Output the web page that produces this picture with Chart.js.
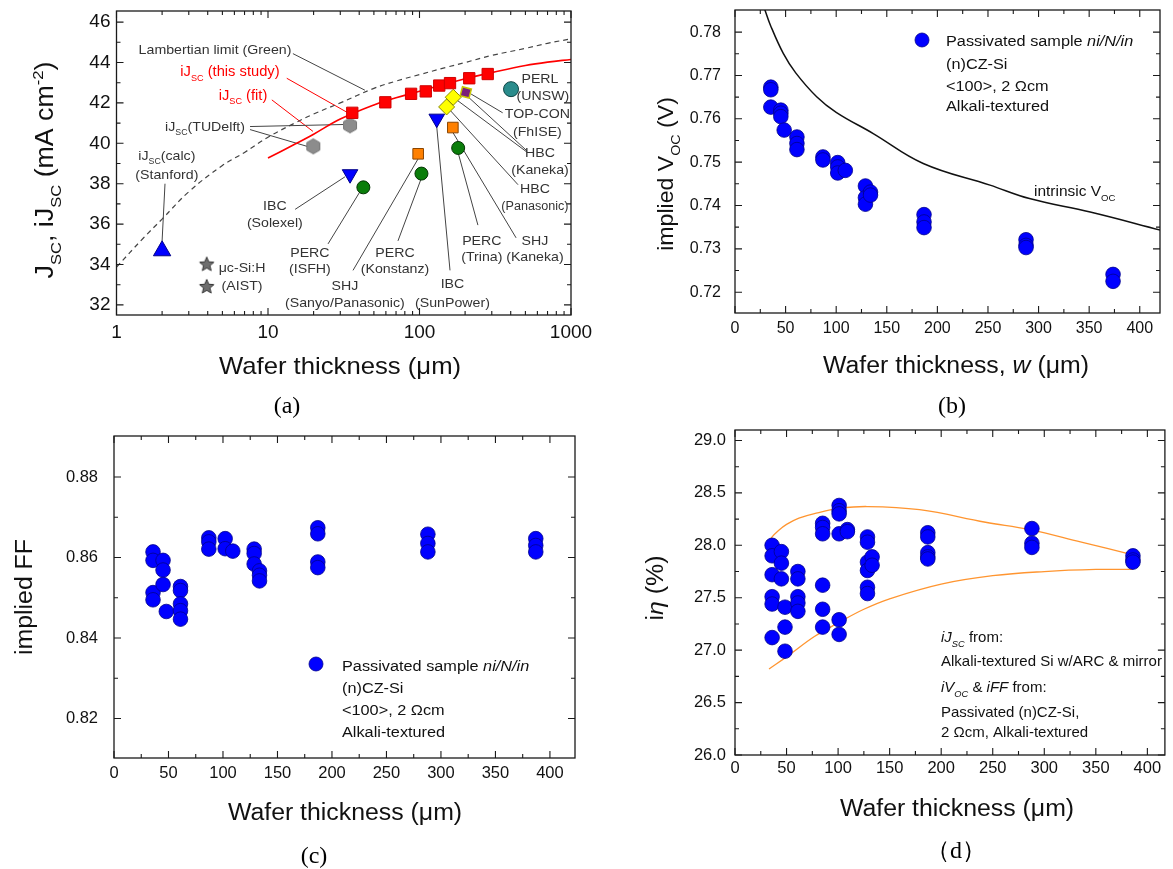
<!DOCTYPE html>
<html><head><meta charset="utf-8">
<script src="https://cdn.jsdelivr.net/npm/chart.js@4.4.1/dist/chart.umd.min.js"></script>
<style>
html,body{margin:0;padding:0;background:#fff;width:1173px;height:869px;overflow:hidden;position:relative;}
canvas{position:absolute;}
.cap{position:absolute;font-family:"Liberation Serif","Times New Roman",serif;font-size:24px;color:#000;transform:translate(-50%,-50%);white-space:nowrap;}
</style></head><body>
<canvas id="ca" width="610" height="420" style="left:0;top:0"></canvas>
<canvas id="cb" width="543" height="420" style="left:630px;top:0"></canvas>
<canvas id="cc" width="610" height="449" style="left:0;top:420px"></canvas>
<canvas id="cd" width="543" height="449" style="left:630px;top:420px"></canvas>
<div class="cap" style="left:287px;top:405px">(a)</div>
<div class="cap" style="left:952px;top:405px">(b)</div>
<div class="cap" style="left:314px;top:855px">(c)</div>
<div class="cap" style="left:956px;top:850px">（d）</div>
<script>
// ---------- Panel (a) data ----------
const aStudyX = [36, 59.5, 88, 110, 135, 159, 213, 282];
const aStudyY = [41.51, 42.03, 42.45, 42.57, 42.86, 42.98, 43.22, 43.43];
const aFitX = [10, 15, 20, 30, 50, 70, 100, 150, 200, 300, 500, 700, 1000];
const aFitY = [39.27, 39.95, 40.45, 41.2, 41.9, 42.25, 42.58, 42.95, 43.2, 43.5, 43.85, 44.02, 44.15];
const aLambX = [1, 1.5, 2, 3, 5, 7, 10, 15, 20, 30, 50, 70, 100, 150, 200, 300, 500, 700, 1000];
const aLambY = [33.87, 35.3, 36.25, 37.6, 38.9, 39.55, 40.3, 41.0, 41.45, 42.0, 42.72, 43.08, 43.4, 43.76, 44.0, 44.35, 44.7, 44.95, 45.17];
const aTUDelftX = [34.8, 19.9];   const aTUDelftY = [40.89, 39.85];
const aStanfordX = [2.0];         const aStanfordY = [34.68];
const aAistX = [3.94, 3.94];      const aAistY = [34.0, 32.89];
const aIbcX = [34.8, 130];        const aIbcY = [38.47, 41.22];
const aPercX = [42.6, 103, 180];  const aPercY = [37.82, 38.5, 39.77];
const aShjX = [98, 166];          const aShjY = [39.48, 40.78];
const aHbcX = [151, 167];         const aHbcY = [41.8, 42.28];
const aTopconX = [202];           const aTopconY = [42.52];
const aPerlX = [402];             const aPerlY = [42.68];
const aXTicks = [1, 10, 100, 1000];
const aXMinor = [2,3,4,5,6,7,8,9,20,30,40,50,60,70,80,90,200,300,400,500,600,700,800,900];
const aYTicks = [32, 34, 36, 38, 40, 42, 44, 46];
const aYMinor = [33, 35, 37, 39, 41, 43, 45];

// ---------- Panel (b) data ----------
const bX = [35.4,35.4,35.4, 45.3,45.3,45.3, 48.6, 61.2,61.2,61.2, 86.9,86.9, 101.5,101.5,101.5, 109,
            128.9,128.9,128.9, 133.9,133.9, 186.8,186.8,186.8, 287.6,287.6,287.6, 373.6,373.6];
const bY = [0.7673,0.7667,0.7627, 0.7620,0.7613,0.7605, 0.7574, 0.7558,0.7543,0.7529, 0.7512,0.7505,
            0.7499,0.7489,0.7475, 0.7481, 0.7445,0.7418,0.7403, 0.7431,0.7424, 0.7379,0.7362,0.7349,
            0.7321,0.7308,0.7303, 0.7241,0.7225];
const bIntrX = [29, 35, 47.7, 60, 80.7, 100, 136.6, 186, 252, 291, 351, 421];
const bIntrY = [0.7855, 0.7816, 0.7751, 0.7706, 0.7651, 0.7615, 0.7566, 0.7497, 0.7447, 0.7416, 0.7385, 0.7343];
const bXTicks = [0, 50, 100, 150, 200, 250, 300, 350, 400];
const bXMinor = [25, 75, 125, 175, 225, 275, 325, 375];
const bYTicks = [0.72, 0.73, 0.74, 0.75, 0.76, 0.77, 0.78];
const bYMinor = [0.725, 0.735, 0.745, 0.755, 0.765, 0.775];

// ---------- Panel (c) data ----------
const cX = [35.8,35.8,35.8,35.8, 45,45,45, 48, 61,61,61,61,61, 87,87,87, 102,102, 109,
            128.6,128.6,128.6, 133.5,133.5,133.5, 187,187,187,187, 288,288,288, 387,387,387];
const cY = [0.8614,0.8593,0.8513,0.8495, 0.8593,0.8569,0.8533, 0.8466, 0.8528,0.8518,0.8485,0.8468,0.8447,
            0.8649,0.8639,0.8621, 0.8647,0.8622, 0.8616, 0.8621,0.8610,0.8584, 0.8567,0.8556,0.8542,
            0.8674,0.8659,0.8589,0.8575, 0.8658,0.8635,0.8614, 0.8647,0.8630,0.8614];
const cXTicks = [0, 50, 100, 150, 200, 250, 300, 350, 400];
const cXMinor = [25, 75, 125, 175, 225, 275, 325, 375];
const cYTicks = [0.82, 0.84, 0.86, 0.88];
const cYMinor = [0.83, 0.85, 0.87];

// ---------- Panel (d) data ----------
const dX = [36,36,36,36,36,36, 45,45,45, 48.5,48.5,48.5, 61,61,61,61,61, 85,85,85,85,85,85,
            101,101,101,101,101,101, 109,109, 128.5,128.5,128.5,128.5,128.5,128.5, 133,133,
            187,187,187,187,187, 288,288,288, 386,386,386];
const dY = [28.00,27.90,27.72,27.51,27.44,27.12, 27.94,27.83,27.68, 27.41,27.22,26.99,
            27.75,27.68,27.51,27.45,27.37, 28.21,28.17,28.11,27.62,27.39,27.22,
            28.38,28.33,28.30,28.11,27.29,27.15, 28.15,28.13, 28.08,28.03,27.84,27.76,27.60,27.54,
            27.89,27.81, 28.12,28.08,27.93,27.89,27.87, 28.16,28.02,27.98, 27.90,27.86,27.84];
const dUpX = [31, 36, 42, 50, 62, 80, 100, 128, 179, 243, 286, 336, 386];
const dUpY = [28.0, 28.08, 28.14, 28.2, 28.26, 28.31, 28.35, 28.37, 28.34, 28.22, 28.15, 28.03, 27.91];
const dLoX = [33, 52, 77, 100, 125, 150, 200, 250, 300, 350, 386];
const dLoY = [26.82, 26.95, 27.13, 27.26, 27.39, 27.49, 27.63, 27.71, 27.75, 27.77, 27.77];
const dXTicks = [0, 50, 100, 150, 200, 250, 300, 350, 400];
const dXMinor = [25, 75, 125, 175, 225, 275, 325, 375];
const dYTicks = [26.0, 26.5, 27.0, 27.5, 28.0, 28.5, 29.0];
const dYMinor = [26.25, 26.75, 27.25, 27.75, 28.25, 28.75];

// ---------- helpers ----------
const FAM = '"Liberation Sans", Arial, Helvetica, sans-serif';
const RED = '#ff0000', GREY = '#333333';

function pts(xs, ys) { return xs.map((x, i) => ({x: x, y: ys[i]})); }
function marks(xs, ys, style) {
  return Object.assign({data: pts(xs, ys), showLine: false, order: 0, borderWidth: 1}, style);
}
function curve(xs, ys, style) {
  return Object.assign({data: pts(xs, ys), showLine: true, pointRadius: 0, fill: false,
    tension: 0.4, order: 10}, style);
}
function hexImg(r, fill, stroke) {
  const c = document.createElement('canvas'); const s = Math.ceil(2 * r + 3);
  c.width = c.height = s; const g = c.getContext('2d'); g.beginPath();
  for (let k = 0; k < 6; k++) { const a = Math.PI / 3 * k + Math.PI / 6; g.lineTo(s / 2 + r * Math.cos(a), s / 2 + r * Math.sin(a)); }
  g.closePath(); g.fillStyle = fill; g.fill(); g.strokeStyle = stroke; g.lineWidth = 1; g.stroke(); return c;
}
function starImg(r, fill, stroke) {
  const c = document.createElement('canvas'); const s = Math.ceil(2 * r + 3);
  c.width = c.height = s; const g = c.getContext('2d'); g.beginPath();
  for (let k = 0; k < 10; k++) { const rr = k % 2 ? r * 0.45 : r; const a = -Math.PI / 2 + Math.PI / 5 * k; g.lineTo(s / 2 + rr * Math.cos(a), s / 2 + rr * Math.sin(a)); }
  g.closePath(); g.fillStyle = fill; g.fill(); g.strokeStyle = stroke; g.lineWidth = 1; g.stroke(); return c;
}
function fixAxis(size, horiz) {
  return function (s) {
    if (horiz) s.height = size; else s.width = size;
    s.paddingTop = 0; s.paddingBottom = 0; s.paddingLeft = 0; s.paddingRight = 0;
  };
}
function axis(type, pos, min, max, tickVals, fontSize, pad, fixed, fmt) {
  return {
    type: type, position: pos, min: min, max: max,
    grid: {display: false, drawTicks: false}, border: {display: false},
    afterBuildTicks: s => { s.ticks = tickVals.map(v => ({value: v})); },
    afterFit: fixAxis(fixed, pos === 'bottom'),
    ticks: {font: {family: FAM, size: fontSize}, color: '#111', padding: pad, autoSkip: false,
      maxRotation: 0, minRotation: 0, callback: fmt || (v => String(v))}
  };
}
function drawRich(ctx, parts, x, y, o) {
  const size = o.size || 14, fam = o.fam || FAM;
  ctx.save(); ctx.translate(x, y); if (o.rot) ctx.rotate(o.rot * Math.PI / 180); ctx.scale(o.sx || 1, 1);
  let w = 0;
  const items = parts.map(p => {
    const sz = (p.sub || p.sup) ? size * 0.62 : size;
    const font = (p.i ? 'italic ' : '') + sz + 'px ' + fam;
    ctx.font = font; const mw = ctx.measureText(p.t).width; w += mw;
    return {p: p, font: font, mw: mw, dy: p.sub ? size * 0.3 : (p.sup ? -size * 0.42 : 0)};
  });
  let cx = o.align === 'left' ? 0 : (o.align === 'right' ? -w : -w / 2);
  ctx.textBaseline = 'alphabetic';
  for (const it of items) {
    ctx.font = it.font; ctx.fillStyle = it.p.c || o.color || '#111';
    ctx.fillText(it.p.t, cx, it.dy + size * 0.36); cx += it.mw;
  }
  ctx.restore();
}

const framePlugin = {
  id: 'frame',
  beforeDatasetsDraw(chart, args, o) {
    if (!o.leaders) return;
    const ctx = chart.ctx, xs = chart.scales.x, ys = chart.scales.y;
    ctx.save(); ctx.lineWidth = 1;
    for (const L of o.leaders) {
      ctx.strokeStyle = L.c; ctx.beginPath();
      L.p.forEach((q, i) => { const px = xs.getPixelForValue(q[0]), py = ys.getPixelForValue(q[1]); if (i) ctx.lineTo(px, py); else ctx.moveTo(px, py); });
      ctx.stroke();
    }
    ctx.restore();
  },
  afterDatasetsDraw(chart, args, o) {
    const ctx = chart.ctx, a = chart.chartArea, xs = chart.scales.x, ys = chart.scales.y;
    ctx.save(); ctx.strokeStyle = '#1a1a1a'; ctx.lineWidth = 1.3;
    ctx.strokeRect(a.left, a.top, a.right - a.left, a.bottom - a.top);
    ctx.lineWidth = 1.1; ctx.beginPath();
    const X = (vals, len) => vals.forEach(v => { const p = xs.getPixelForValue(v);
      ctx.moveTo(p, a.bottom); ctx.lineTo(p, a.bottom - len); ctx.moveTo(p, a.top); ctx.lineTo(p, a.top + len); });
    const Y = (vals, len) => vals.forEach(v => { const p = ys.getPixelForValue(v);
      ctx.moveTo(a.left, p); ctx.lineTo(a.left + len, p); ctx.moveTo(a.right, p); ctx.lineTo(a.right - len, p); });
    X(o.xMajor, o.major); X(o.xMinor, o.minor); Y(o.yMajor, o.major); Y(o.yMinor, o.minor);
    ctx.stroke(); ctx.restore();
  },
  afterDraw(chart, args, o) {
    const ctx = chart.ctx, xs = chart.scales.x, ys = chart.scales.y;
    (o.markers || []).forEach(m => {
      ctx.save(); ctx.beginPath(); ctx.arc(m.x - o.origin[0], m.y - o.origin[1], m.r, 0, 2 * Math.PI);
      ctx.fillStyle = m.fill; ctx.fill(); ctx.lineWidth = 0.8; ctx.strokeStyle = m.stroke; ctx.stroke(); ctx.restore();
    });
    (o.texts || []).forEach(t => {
      let px, py;
      if (t.data) { px = xs.getPixelForValue(t.x); py = ys.getPixelForValue(t.y); }
      else { px = t.x - o.origin[0]; py = t.y - o.origin[1]; }
      drawRich(ctx, t.p, px, py, t);
    });
  }
};

function makeChart(id, datasets, xAx, yAx, pad, frame) {
  return new Chart(document.getElementById(id), {
    type: 'scatter',
    data: {datasets: datasets},
    options: {
      responsive: false, animation: false, devicePixelRatio: 1, events: [],
      layout: {padding: pad},
      scales: {x: xAx, y: yAx},
      plugins: {legend: {display: false}, tooltip: {enabled: false}, frame: frame}
    },
    plugins: [framePlugin]
  });
}
const T = (s, extra) => Object.assign({t: s}, extra || {});
const SUB = s => ({t: s, sub: true});

// ---------- Panel (a) ----------
const aNotes = [
  [4.47, 44.68, [T('Lambertian limit (Green)')], GREY, 13.5],
  [5.61, 43.56, [T('iJ'), SUB('SC'), T(' (this study)')], RED, 14],
  [6.84, 42.39, [T('iJ'), SUB('SC'), T(' (fit)')], RED, 14],
  [3.84, 40.83, [T('iJ'), SUB('SC'), T('(TUDelft)')], GREY, 13.5],
  [2.15, 39.41, [T('iJ'), SUB('SC'), T('(calc)')], GREY, 13.5],
  [2.15, 38.49, [T('(Stanford)')], GREY, 13.5],
  [6.74, 33.85, [T('μc-Si:H')], GREY, 13.5],
  [6.74, 32.98, [T('(AIST)')], GREY, 13.5],
  [11.1, 36.93, [T('IBC')], GREY, 13.5],
  [11.1, 36.10, [T('(Solexel)')], GREY, 13.5],
  [18.9, 34.59, [T('PERC')], GREY, 13.5],
  [18.9, 33.80, [T('(ISFH)')], GREY, 13.5],
  [32.2, 32.98, [T('SHJ')], GREY, 13.5],
  [32.2, 32.15, [T('(Sanyo/Panasonic)')], GREY, 13.5],
  [68.9, 34.63, [T('PERC')], GREY, 13.5],
  [68.9, 33.80, [T('(Konstanz)')], GREY, 13.5],
  [165, 33.06, [T('IBC')], GREY, 13.5],
  [165, 32.16, [T('(SunPower)')], GREY, 13.5],
  [258, 35.2, [T('PERC')], GREY, 13.5],
  [258, 34.39, [T('(Trina)')], GREY, 13.5],
  [578, 35.22, [T('SHJ')], GREY, 13.5],
  [578, 34.39, [T('(Kaneka)')], GREY, 13.5],
  [578, 37.77, [T('HBC')], GREY, 13.5],
  [578, 36.93, [T('(Panasonic)')], GREY, 12],
  [624, 39.56, [T('HBC')], GREY, 13.5],
  [624, 38.70, [T('(Kaneka)')], GREY, 13.5],
  [600, 41.51, [T('TOP-CON')], GREY, 13.5],
  [600, 40.62, [T('(FhISE)')], GREY, 13.5],
  [624, 43.22, [T('PERL')], GREY, 13.5],
  [653, 42.36, [T('(UNSW)')], GREY, 13.5]
];
const aLeaders = [
  {c: '#444', p: [[14.6, 44.44], [43.6, 42.63]]},
  {c: RED, p: [[13.3, 43.22], [33.7, 41.51]]},
  {c: RED, p: [[10.6, 42.15], [19.8, 40.59]]},
  {c: '#444', p: [[7.61, 40.83], [31.3, 40.93]]},
  {c: '#444', p: [[7.61, 40.68], [18.1, 39.85]]},
  {c: '#444', p: [[2.09, 38.0], [2.0, 35.17]]},
  {c: '#444', p: [[15.1, 36.73], [32.2, 38.34]]},
  {c: '#444', p: [[24.9, 35.02], [40.5, 37.61]]},
  {c: '#444', p: [[36.4, 33.71], [97.7, 39.22]]},
  {c: '#444', p: [[72.1, 35.17], [102, 38.2]]},
  {c: '#444', p: [[159, 33.71], [128.5, 41.22]]},
  {c: '#444', p: [[243, 35.95], [179.5, 39.56]]},
  {c: '#444', p: [[434, 35.32], [166, 40.54]]},
  {c: '#444', p: [[447, 37.95], [152, 41.8]]},
  {c: '#444', p: [[513, 39.56], [166, 42.29]]},
  {c: '#444', p: [[513, 39.62], [203, 42.39]]},
  {c: '#444', p: [[354, 41.51], [219, 42.44]]}
];
const aTexts = aNotes.map(n => ({data: true, x: n[0], y: n[1], p: n[2], color: n[3], size: n[4], sx: 1.05, align: 'center'}));
aTexts.push({x: 44, y: 170, rot: -90, size: 25, sx: 1.07, color: '#111',
  p: [T('J'), SUB('SC'), T(', iJ'), SUB('SC'), T(' (mA cm'), {t: '-2', sup: true}, T(')')]});
aTexts.push({x: 340, y: 365, size: 24, sx: 1.07, color: '#111', p: [T('Wafer thickness (μm)')]});

makeChart('ca', [
  marks(aStudyX, aStudyY, {pointStyle: 'rect', pointRadius: 8, backgroundColor: RED, borderColor: '#d00000'}),
  marks(aTUDelftX, aTUDelftY, {pointStyle: hexImg(7.5, '#8c8c8c', '#777')}),
  marks(aStanfordX, aStanfordY, {pointStyle: 'triangle', pointRadius: 10, backgroundColor: '#0000ff', borderColor: '#000088'}),
  marks(aAistX, aAistY, {pointStyle: starImg(7.5, '#6e6e6e', '#333')}),
  marks(aIbcX, aIbcY, {pointStyle: 'triangle', rotation: 180, pointRadius: 9, backgroundColor: '#0000ff', borderColor: '#000088'}),
  marks(aPercX, aPercY, {pointStyle: 'circle', pointRadius: 6.5, backgroundColor: '#0a7d0a', borderColor: '#033303'}),
  marks(aShjX, aShjY, {pointStyle: 'rect', pointRadius: 7.5, backgroundColor: '#ff8000', borderColor: '#8a4500'}),
  marks(aTopconX, aTopconY, {pointStyle: 'rect', rotation: 15, pointRadius: 6.5, backgroundColor: '#7a1e7a', borderColor: '#c8c800', borderWidth: 1.5}),
  marks(aHbcX, aHbcY, {pointStyle: 'rectRot', pointRadius: 8, backgroundColor: '#ffff00', borderColor: '#8a8a00'}),
  marks(aPerlX, aPerlY, {pointStyle: 'circle', pointRadius: 7.5, backgroundColor: '#2a8c8c', borderColor: '#0f4545'}),
  curve(aFitX, aFitY, {borderColor: RED, borderWidth: 1.6}),
  curve(aLambX, aLambY, {borderColor: '#444', borderWidth: 1.2, borderDash: [5, 4]})
],
  axis('logarithmic', 'bottom', 1, 1000, aXTicks, 19, 6, 105),
  axis('linear', 'left', 31.5, 46.55, aYTicks, 19, 6, 116.5),
  {left: 0, top: 7.5, right: 39, bottom: 0},
  {origin: [0, 0], major: 7, minor: 4, xMajor: aXTicks, xMinor: aXMinor, yMajor: aYTicks, yMinor: aYMinor,
   leaders: aLeaders, texts: aTexts});

// ---------- Panel (b) ----------
const BLUE = {pointStyle: 'circle', pointRadius: 7.3, backgroundColor: '#0000ff', borderColor: '#00008b', borderWidth: 0.8};
const LEG = 15.5;
makeChart('cb', [
  marks(bX, bY, BLUE),
  curve(bIntrX, bIntrY, {borderColor: '#111', borderWidth: 1.5})
],
  axis('linear', 'bottom', 0, 420, bXTicks, 16, 6, 107),
  axis('linear', 'left', 0.7152, 0.7851, bYTicks, 16, 14, 105),
  {left: 0, top: 10, right: 13, bottom: 0},
  {origin: [630, 0], major: 7, minor: 4, xMajor: bXTicks, xMinor: bXMinor, yMajor: bYTicks, yMinor: bYMinor,
   markers: [{x: 922, y: 40, r: 7, fill: '#0000ff', stroke: '#00008b'}],
   texts: [
     {x: 946, y: 40, align: 'left', size: LEG, sx: 1.05, p: [T('Passivated sample '), T('ni/N/in', {i: true})]},
     {x: 946, y: 63, align: 'left', size: LEG, sx: 1.05, p: [T('(n)CZ-Si')]},
     {x: 946, y: 85, align: 'left', size: LEG, sx: 1.05, p: [T('<100>, 2 Ωcm')]},
     {x: 946, y: 105, align: 'left', size: LEG, sx: 1.05, p: [T('Alkali-textured')]},
     {x: 1034, y: 191, align: 'left', size: 15, sx: 1.03, p: [T('intrinsic V'), SUB('OC')]},
     {x: 665, y: 174, rot: -90, size: 22, sx: 1.05, p: [T('implied V'), SUB('OC'), T(' (V)')]},
     {x: 956, y: 365, size: 23, sx: 1.08, p: [T('Wafer thickness, '), T('w', {i: true}), T(' (μm)')]}
   ]});

// ---------- Panel (c) ----------
makeChart('cc', [marks(cX, cY, BLUE)],
  axis('linear', 'bottom', 0, 423, cXTicks, 16.5, 6, 111),
  axis('linear', 'left', 0.8102, 0.8902, cYTicks, 16.5, 16, 114),
  {left: 0, top: 16, right: 35, bottom: 0},
  {origin: [0, 420], major: 7, minor: 4, xMajor: cXTicks, xMinor: cXMinor, yMajor: cYTicks, yMinor: cYMinor,
   markers: [{x: 316, y: 664, r: 7, fill: '#0000ff', stroke: '#00008b'}],
   texts: [
     {x: 342, y: 665, align: 'left', size: LEG, sx: 1.05, p: [T('Passivated sample '), T('ni/N/in', {i: true})]},
     {x: 342, y: 687, align: 'left', size: LEG, sx: 1.05, p: [T('(n)CZ-Si')]},
     {x: 342, y: 709, align: 'left', size: LEG, sx: 1.05, p: [T('<100>, 2 Ωcm')]},
     {x: 342, y: 731, align: 'left', size: LEG, sx: 1.05, p: [T('Alkali-textured')]},
     {x: 24, y: 597, rot: -90, size: 23, sx: 1.08, p: [T('implied FF')]},
     {x: 345, y: 812, size: 23, sx: 1.08, p: [T('Wafer thickness (μm)')]}
   ]});

// ---------- Panel (d) ----------
const ORANGE = '#ff9530';
makeChart('cd', [
  marks(dX, dY, BLUE),
  curve(dUpX, dUpY, {borderColor: ORANGE, borderWidth: 1.3}),
  curve(dLoX, dLoY, {borderColor: ORANGE, borderWidth: 1.3})
],
  axis('linear', 'bottom', 0, 417, dXTicks, 16.5, 4, 114),
  axis('linear', 'left', 26.0, 29.1, dYTicks, 16.5, 9, 105, v => v.toFixed(1)),
  {left: 0, top: 10, right: 1, bottom: 0},
  {origin: [630, 420], major: 7, minor: 4, xMajor: dXTicks, xMinor: dXMinor, yMajor: dYTicks, yMinor: dYMinor,
   texts: [
     {x: 941, y: 637, align: 'left', size: 15, sx: 1.0, p: [T('iJ', {i: true}), {t: 'SC', sub: true, i: true}, T(' from:')]},
     {x: 941, y: 661, align: 'left', size: 15, sx: 1.0, p: [T('Alkali-textured Si w/ARC & mirror')]},
     {x: 941, y: 687, align: 'left', size: 15, sx: 1.0, p: [T('iV', {i: true}), {t: 'OC', sub: true, i: true}, T(' & '), T('iFF', {i: true}), T(' from:')]},
     {x: 941, y: 712, align: 'left', size: 15, sx: 1.0, p: [T('Passivated (n)CZ-Si,')]},
     {x: 941, y: 732, align: 'left', size: 15, sx: 1.0, p: [T('2 Ωcm, Alkali-textured')]},
     {x: 655, y: 588, rot: -90, size: 23, sx: 1.08, p: [T('i'), T('η', {i: true}), T(' (%)')]},
     {x: 957, y: 808, size: 23, sx: 1.08, p: [T('Wafer thickness (μm)')]}
   ]});
</script>
</body></html>
